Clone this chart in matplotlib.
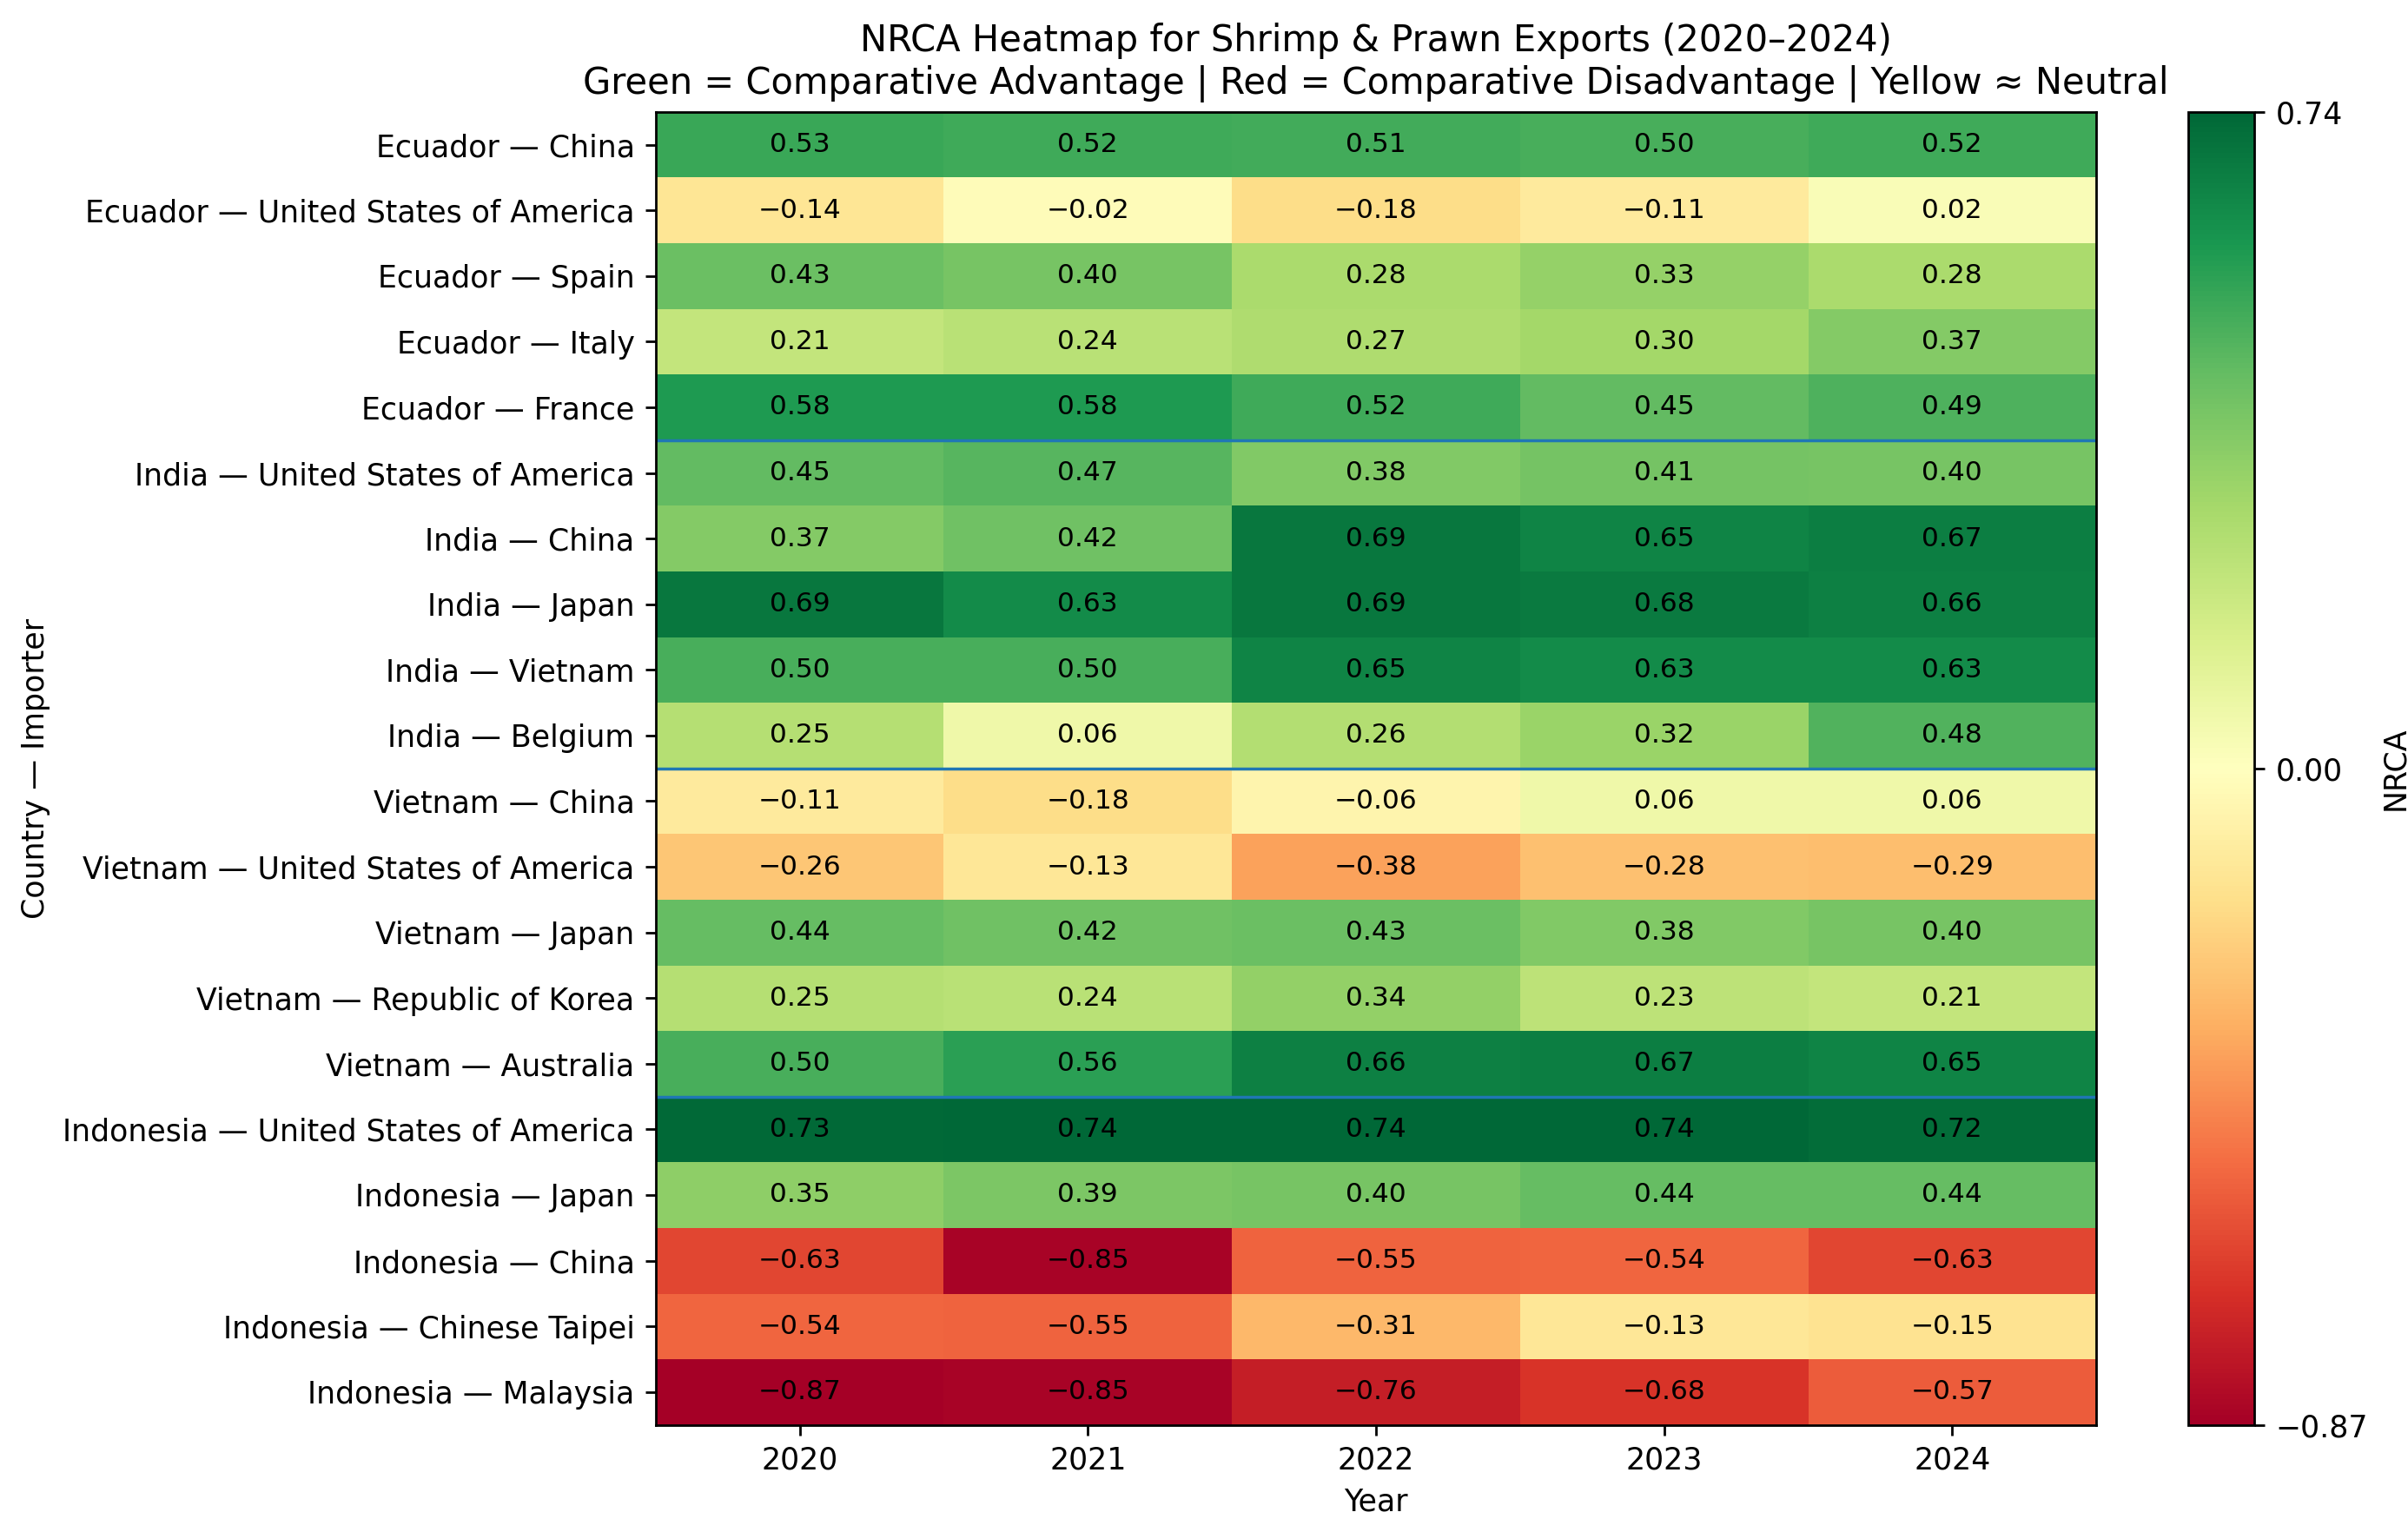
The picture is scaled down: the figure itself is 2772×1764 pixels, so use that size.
import matplotlib
matplotlib.use("Agg")
import matplotlib.pyplot as plt
import numpy as np
from matplotlib.colors import TwoSlopeNorm

# Country — Importer pairs (rows), top to bottom
pairs = [
    "Ecuador — China",
    "Ecuador — United States of America",
    "Ecuador — Spain",
    "Ecuador — Italy",
    "Ecuador — France",
    "India — United States of America",
    "India — China",
    "India — Japan",
    "India — Vietnam",
    "India — Belgium",
    "Vietnam — China",
    "Vietnam — United States of America",
    "Vietnam — Japan",
    "Vietnam — Republic of Korea",
    "Vietnam — Australia",
    "Indonesia — United States of America",
    "Indonesia — Japan",
    "Indonesia — China",
    "Indonesia — Chinese Taipei",
    "Indonesia — Malaysia",
]
years = [2020, 2021, 2022, 2023, 2024]

nrca_2020 = [0.53, -0.14, 0.43, 0.21, 0.58, 0.45, 0.37, 0.69, 0.50, 0.25,
             -0.11, -0.26, 0.44, 0.25, 0.50, 0.73, 0.35, -0.63, -0.54, -0.87]
nrca_2021 = [0.52, -0.02, 0.40, 0.24, 0.58, 0.47, 0.42, 0.63, 0.50, 0.06,
             -0.18, -0.13, 0.42, 0.24, 0.56, 0.74, 0.39, -0.85, -0.55, -0.85]
nrca_2022 = [0.51, -0.18, 0.28, 0.27, 0.52, 0.38, 0.69, 0.69, 0.65, 0.26,
             -0.06, -0.38, 0.43, 0.34, 0.66, 0.74, 0.40, -0.55, -0.31, -0.76]
nrca_2023 = [0.50, -0.11, 0.33, 0.30, 0.45, 0.41, 0.65, 0.68, 0.63, 0.32,
             0.06, -0.28, 0.38, 0.23, 0.67, 0.74, 0.44, -0.54, -0.13, -0.68]
nrca_2024 = [0.52, 0.02, 0.28, 0.37, 0.49, 0.40, 0.67, 0.66, 0.63, 0.48,
             0.06, -0.29, 0.40, 0.21, 0.65, 0.72, 0.44, -0.63, -0.15, -0.57]

# rows where the exporter changes
group_breaks = [5, 10, 15]

data = np.column_stack([nrca_2020, nrca_2021, nrca_2022, nrca_2023, nrca_2024])
vmin, vmax = data.min(), data.max()

fig = plt.figure(figsize=(11.088, 7.056), dpi=250)
ax = fig.add_axes([0.2723, 0.07, 0.5982, 0.857])
cax = fig.add_axes([0.9088, 0.07, 0.0274, 0.857])

norm = TwoSlopeNorm(vmin=vmin, vcenter=0.0, vmax=vmax)
im = ax.imshow(data, cmap="RdYlGn", norm=norm, aspect="auto")

for i in range(data.shape[0]):
    for j in range(data.shape[1]):
        ax.text(j, i, f"{data[i, j]:.2f}".replace("-", "\u2212"),
                ha="center", va="center", fontsize=9, color="black")

for b in group_breaks:
    ax.axhline(b - 0.5, color="C0", linewidth=1)

ax.set_xticks(range(len(years)))
ax.set_xticklabels([str(y) for y in years])
ax.set_yticks(range(len(pairs)))
ax.set_yticklabels(pairs)
ax.set_xlabel("Year")
ax.set_ylabel("Country — Importer")
ax.set_title("NRCA Heatmap for Shrimp & Prawn Exports (2020–2024)\n"
             "Green = Comparative Advantage | Red = Comparative Disadvantage | Yellow ≈ Neutral",
             fontsize=12)

cbar = fig.colorbar(im, cax=cax)
cbar.set_ticks([vmin, 0.0, vmax])
cbar.set_ticklabels([f"{vmin:.2f}".replace("-", "\u2212"), "0.00", f"{vmax:.2f}"])
cbar.set_label("NRCA")

fig.savefig("out.png", dpi=250)
